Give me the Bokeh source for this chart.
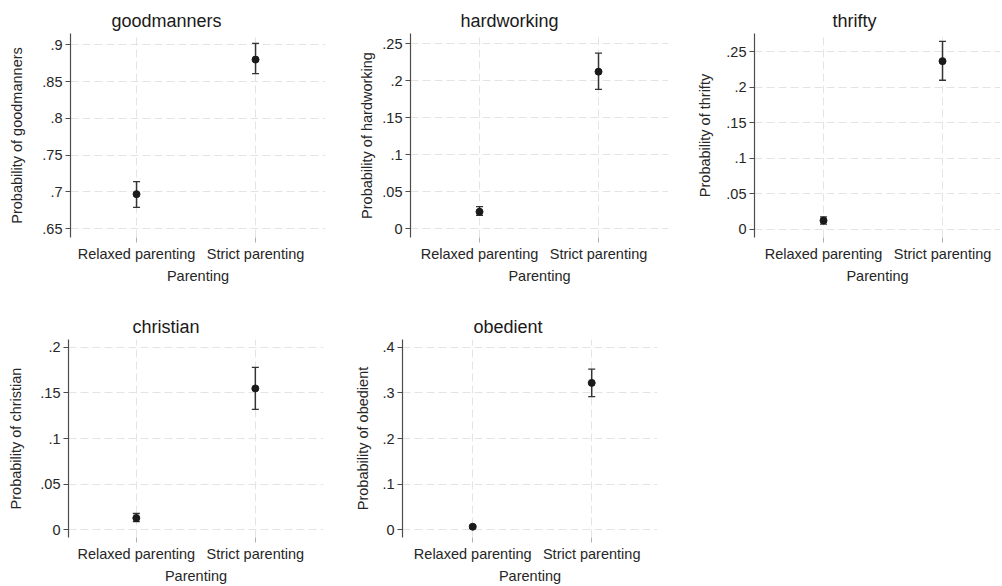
from bokeh.plotting import figure
from bokeh.layouts import column, row
from bokeh.models import (ColumnDataSource, Range1d, FixedTicker, Whisker, TeeHead)
from bokeh.embed import file_html
from bokeh.resources import INLINE

# ---------------- data ----------------
categories = ["Relaxed parenting", "Strict parenting"]

outcomes = ["goodmanners", "hardworking", "thrifty", "christian", "obedient"]

goodmanners_est = [0.697, 0.880]
goodmanners_lo = [0.679, 0.861]
goodmanners_hi = [0.714, 0.902]

hardworking_est = [0.023, 0.212]
hardworking_lo = [0.018, 0.188]
hardworking_hi = [0.030, 0.237]

thrifty_est = [0.012, 0.237]
thrifty_lo = [0.007, 0.210]
thrifty_hi = [0.017, 0.265]

christian_est = [0.013, 0.155]
christian_lo = [0.009, 0.132]
christian_hi = [0.018, 0.178]

obedient_est = [0.007, 0.322]
obedient_lo = [0.004, 0.292]
obedient_hi = [0.010, 0.352]

goodmanners_ticks = [0.65, 0.70, 0.75, 0.80, 0.85, 0.90]
goodmanners_tick_labels = [".65", ".7", ".75", ".8", ".85", ".9"]
hardworking_ticks = [0, 0.05, 0.10, 0.15, 0.20, 0.25]
hardworking_tick_labels = ["0", ".05", ".1", ".15", ".2", ".25"]
thrifty_ticks = [0, 0.05, 0.10, 0.15, 0.20, 0.25]
thrifty_tick_labels = ["0", ".05", ".1", ".15", ".2", ".25"]
christian_ticks = [0, 0.05, 0.10, 0.15, 0.20]
christian_tick_labels = ["0", ".05", ".1", ".15", ".2"]
obedient_ticks = [0, 0.1, 0.2, 0.3, 0.4]
obedient_tick_labels = ["0", ".1", ".2", ".3", ".4"]

series = {
    "goodmanners": (goodmanners_est, goodmanners_lo, goodmanners_hi, goodmanners_ticks, goodmanners_tick_labels),
    "hardworking": (hardworking_est, hardworking_lo, hardworking_hi, hardworking_ticks, hardworking_tick_labels),
    "thrifty": (thrifty_est, thrifty_lo, thrifty_hi, thrifty_ticks, thrifty_tick_labels),
    "christian": (christian_est, christian_lo, christian_hi, christian_ticks, christian_tick_labels),
    "obedient": (obedient_est, obedient_lo, obedient_hi, obedient_ticks, obedient_tick_labels),
}

# ---------------- layout (not data) ----------------
y_ranges = {
    "goodmanners": (0.638, 0.9155),
    "hardworking": (-0.0118, 0.2635),
    "thrifty": (-0.012, 0.276),
    "christian": (-0.0083, 0.2086),
    "obedient": (-0.0166, 0.417),
}
# width, height, border left, right, top, bottom, y-label standoff, title offset, x start
geom = {
    "goodmanners": (340, 306, 70, 15, 33, 69, 14, 41, -0.555),
    "hardworking": (344, 306, 70, 16, 33, 69, 4, 50, -0.58),
    "thrifty": (316, 306, 70, 0, 33, 69, 10, 78, -0.58),
    "christian": (334, 280, 68, 11, 33, 46, 13, 64, -0.57),
    "obedient": (340, 280, 68, 17, 33, 46, 8, 71, -0.59),
}
PX_PER_CAT = 119.0

FONT = "Liberation Sans"
TEXT = "#262626"
GRID = "#e4e4e4"
FS = "14.5px"


def make_panel(name):
    est, lo, hi, ticks, tick_labels = series[name]
    w, h, bl, br, bt, bb, ylab_standoff, title_off, x_start = geom[name]
    frame_w = w - bl - br
    xs = list(range(len(categories)))
    src = ColumnDataSource(dict(x=xs, est=est, lo=lo, hi=hi, cat=categories))

    p = figure(width=w, height=h, output_backend="svg", toolbar_location=None,
               x_range=Range1d(x_start, x_start + frame_w / PX_PER_CAT),
               y_range=Range1d(*y_ranges[name]),
               min_border_left=bl, min_border_right=br,
               min_border_top=bt, min_border_bottom=bb,
               title=name)
    p.outline_line_color = None
    p.background_fill_color = "white"
    p.border_fill_color = "white"

    p.title.align = "left"
    p.title.offset = title_off
    p.title.text_font = FONT
    p.title.text_font_size = "18px"
    p.title.text_font_style = "normal"
    p.title.text_color = "#1a1a1a"
    p.title.standoff = 5

    # x axis
    xa = p.xaxis[0]
    xa.ticker = FixedTicker(ticks=xs)
    xa.major_label_overrides = {i: c for i, c in zip(xs, categories)}
    xa.axis_label = "Parenting"
    xa.axis_line_color = None
    xa.major_tick_line_color = "#b0b0b0"
    xa.major_tick_out = 5
    xa.major_tick_in = 0
    xa.minor_tick_line_color = None
    xa.major_label_standoff = 3
    xa.axis_label_standoff = 3
    xa.major_label_text_font = FONT
    xa.major_label_text_font_size = FS
    xa.major_label_text_color = TEXT
    xa.axis_label_text_font = FONT
    xa.axis_label_text_font_size = FS
    xa.axis_label_text_font_style = "normal"
    xa.axis_label_text_color = TEXT

    # y axis
    ya = p.yaxis[0]
    ya.ticker = FixedTicker(ticks=ticks)
    ya.major_label_overrides = {t: l for t, l in zip(ticks, tick_labels)}
    ya.axis_label = "Probability of " + name
    ya.axis_line_color = "#4d4d4d"
    ya.axis_line_width = 1.2
    ya.major_tick_line_color = "#4d4d4d"
    ya.major_tick_out = 5
    ya.major_tick_in = 0
    ya.minor_tick_line_color = None
    ya.major_label_standoff = 3
    ya.axis_label_standoff = ylab_standoff
    ya.major_label_text_font = FONT
    ya.major_label_text_font_size = FS
    ya.major_label_text_color = TEXT
    ya.axis_label_text_font = FONT
    ya.axis_label_text_font_size = FS
    ya.axis_label_text_font_style = "normal"
    ya.axis_label_text_color = TEXT

    # grids
    for g in (p.xgrid[0], p.ygrid[0]):
        g.grid_line_color = GRID
        g.grid_line_dash = "8 4"
        g.grid_line_width = 1
    p.xgrid[0].ticker = FixedTicker(ticks=xs)
    p.ygrid[0].ticker = FixedTicker(ticks=ticks)

    # error bars
    wk = Whisker(base="x", lower="lo", upper="hi", source=src,
                 line_color="#333333", line_width=1.5,
                 upper_head=TeeHead(size=7, line_color="#333333", line_width=1.3),
                 lower_head=TeeHead(size=7, line_color="#333333", line_width=1.3))
    p.add_layout(wk)
    p.scatter("x", "est", source=src, size=7, color="#1a1a1a")
    return p


figs = {n: make_panel(n) for n in outcomes}
layout = column(
    row(figs["goodmanners"], figs["hardworking"], figs["thrifty"], spacing=0),
    row(figs["christian"], figs["obedient"], spacing=0),
    spacing=0,
)

open("out.html", "w").write(file_html(layout, INLINE))
